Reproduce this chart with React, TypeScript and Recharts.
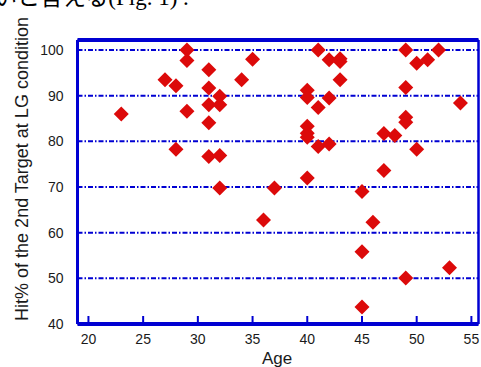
import {
  CartesianGrid,
  ReferenceLine,
  Scatter,
  ScatterChart,
  XAxis,
  YAxis,
} from 'recharts'

// ages of the subjects and their hit% (2nd target, LG condition)
const ages = [
  23, 27, 28, 28, 29, 29, 29, 31, 31, 31, 31, 31, 32, 32, 32, 32, 34, 35, 36, 37,
  40, 40, 40, 40, 40, 40, 41, 41, 41, 42, 42, 42, 43, 43, 43, 45, 45, 45, 46, 47,
  47, 48, 49, 49, 49, 49, 49, 50, 50, 51, 52, 53, 54,
]
const hits = [
  86.0, 93.5, 92.2, 78.3, 100, 97.7, 86.6, 95.7, 91.7, 88.0, 84.1, 76.7, 89.9, 88.0, 76.9, 69.8, 93.5, 98.0, 62.8, 69.8,
  91.2, 89.6, 83.3, 81.8, 80.9, 72.0, 100, 87.4, 78.9, 97.9, 89.5, 79.4, 98.1, 97.5, 93.5, 69.0, 55.8, 43.7, 62.3, 81.7,
  73.6, 81.3, 100, 91.8, 85.3, 84.2, 50.1, 97.1, 78.3, 97.9, 100, 52.3, 88.4,
]
const xTicks = [20, 25, 30, 35, 40, 45, 50, 55]
const yTicks = [40, 50, 60, 70, 80, 90, 100]

const X_MIN = 19
const X_MAX = 55.65
const Y_MIN = 40
const Y_MAX = 102.2

const BLUE = '#0000d2'
const RED = '#dc0a0a'
const TEXT = '#1a1a1a'
const FONT = "'Liberation Sans', Arial, sans-serif"
const TICK_MARGIN = 10

const data = ages.map((age, i) => ({ age, hit: hits[i] }))

function Diamond(props: any) {
  const { cx, cy } = props
  const r = 7.5
  return (
    <polygon
      points={`${cx},${cy - r} ${cx + r},${cy} ${cx},${cy + r} ${cx - r},${cy}`}
      fill={RED}
    />
  )
}

// x ticks point up into the plot, labels below
function AgeTick(props: any) {
  const { x, y, payload } = props
  const axisY = y - TICK_MARGIN
  return (
    <g>
      <line x1={x} x2={x} y1={axisY} y2={axisY - 8} stroke={BLUE} strokeWidth={2} />
      <text x={x} y={y} dy="0.71em" textAnchor="middle" fill={TEXT} fontSize={14} fontFamily={FONT}>
        {payload.value}
      </text>
    </g>
  )
}

export default function App() {
  return (
    <div style={{ position: 'absolute', left: 0, top: 0, width: 481, height: 367, overflow: 'hidden', background: '#fff' }}>
      <div
        style={{
          position: 'absolute',
          left: -6,
          top: -14,
          fontSize: 23,
          lineHeight: 1,
          whiteSpace: 'nowrap',
          color: '#000',
          fontFamily: "'Liberation Serif', 'Noto Sans CJK JP', serif",
        }}
      >
        いと言える(Fig. 1) .
      </div>
      <ScatterChart
        width={481}
        height={367}
        margin={{ top: 40, right: 2.5, bottom: 0, left: 0 }}
      >
        <CartesianGrid
          vertical={false}
          stroke={BLUE}
          strokeWidth={2}
          strokeDasharray="5 2 1.5 2"
        />
        <XAxis
          type="number"
          dataKey="age"
          domain={[X_MIN, X_MAX]}
          ticks={xTicks}
          allowDataOverflow
          height={43}
          tickSize={0}
          tickMargin={TICK_MARGIN}
          tickLine={false}
          tick={<AgeTick />}
          axisLine={{ stroke: BLUE, strokeWidth: 4 }}
          label={{
            content: () => (
              <text x={277} y={364} textAnchor="middle" fill={TEXT} fontSize={17} fontFamily={FONT}>
                Age
              </text>
            ),
          }}
        />
        <YAxis
          type="number"
          dataKey="hit"
          domain={[Y_MIN, Y_MAX]}
          ticks={yTicks}
          allowDataOverflow
          width={77.5}
          tickSize={0}
          tickMargin={14}
          tickLine={false}
          tick={{ fill: TEXT, fontSize: 14, fontFamily: FONT }}
          axisLine={{ stroke: BLUE, strokeWidth: 3 }}
          label={{
            content: () => (
              <text
                x={28}
                y={169}
                transform="rotate(-90 28 169)"
                textAnchor="middle"
                fill={TEXT}
                fontSize={18}
                fontFamily={FONT}
              >
                Hit% of the 2nd Target at LG condition
              </text>
            ),
          }}
        />
        <ReferenceLine y={Y_MAX} stroke={BLUE} strokeWidth={4} />
        <ReferenceLine x={X_MAX} stroke={BLUE} strokeWidth={2.5} />
        <Scatter data={data} shape={<Diamond />} isAnimationActive={false} />
      </ScatterChart>
    </div>
  )
}
